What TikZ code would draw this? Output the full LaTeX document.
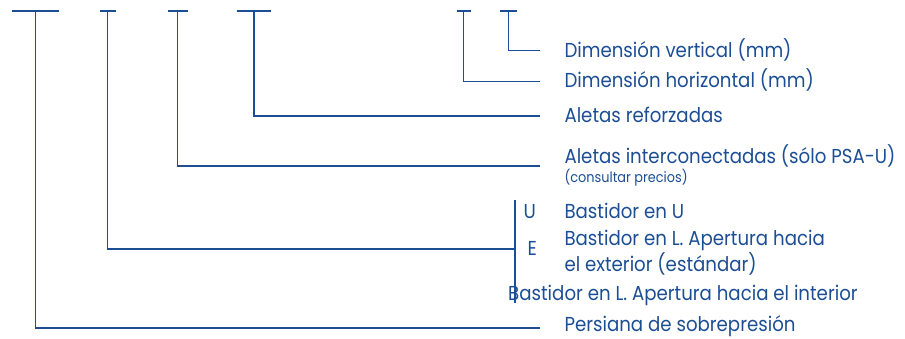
\documentclass[tikz,border=0pt]{standalone}
\usepackage{fontspec}
\setmainfont[FakeStretch=0.9]{Poppins}
\definecolor{ink}{RGB}{28,78,148}
\begin{document}
\begin{tikzpicture}[x=1pt,y=-1pt,
  wire/.style={draw=ink,line width=1.6pt},
  lbl/.style={anchor=base west,inner sep=0pt,text=ink,font=\fontsize{20.2}{23}\selectfont},
  small/.style={anchor=base west,inner sep=0pt,text=ink,font=\fontsize{14.3}{16}\selectfont}]
\useasboundingbox (0,0) rectangle (905,338);
% top bars
\coordinate (t1) at (35.3,11);
\coordinate (t2) at (107.5,11);
\coordinate (t3) at (177.3,11);
\coordinate (t4) at (254,11);
\coordinate (t5) at (463.3,11);
\coordinate (t6) at (508.5,11);
\draw[wire] (12,11) -- (58.7,11);
\draw[wire] (100,11) -- (115.7,11);
\draw[wire] (167.7,11) -- (187.7,11);
\draw[wire] (236.7,11) -- (271,11);
\draw[wire] (456.7,11) -- (470.7,11);
\draw[wire] (500,11) -- (516.7,11);
% labels
\node[lbl] (dv) at (564.3,57) {Dimensión vertical (mm)};
\node[lbl] (dh) at (564.3,87) {Dimensión horizontal (mm)};
\node[lbl] (ar) at (564.3,122.5) {Aletas reforzadas};
\node[lbl] (ai) at (564.3,163) {Aletas interconectadas (sólo PSA-U)};
\node[small] (cp) at (564.3,182.5) {(consultar precios)};
\node[lbl] (ku) at (523.3,218) {U};
\node[lbl] (bu) at (564.3,218) {Bastidor en U};
\node[lbl] (ke) at (527.3,255) {E};
\node[lbl] (bl1) at (564.3,245) {Bastidor en L. Apertura hacia};
\node[lbl] (bl2) at (564.3,271.5) {el exterior (estándar)};
\node[lbl] (bi) at (508,300) {Bastidor en L. Apertura hacia el interior};
\node[lbl] (ps) at (564.3,331.5) {Persiana de sobrepresión};
% connector ends
\coordinate (e6) at (540,50.5);
\coordinate (e5) at (540,81.5);
\coordinate (e4) at (540,116);
\coordinate (e3) at (540,166);
\coordinate (e2) at (515,249);
\coordinate (e1) at (540,328);
\coordinate (bt) at (515,200);
\coordinate (bb) at (515,303);
\draw[wire] (t6) |- (e6);
\draw[wire] (t5) |- (e5);
\draw[wire] (t4) |- (e4);
\draw[wire] (t3) |- (e3);
\draw[wire] (t2) |- (e2);
\draw[wire] (t1) |- (e1);
\draw[wire] (bt) -- (bb);
\end{tikzpicture}
\end{document}
